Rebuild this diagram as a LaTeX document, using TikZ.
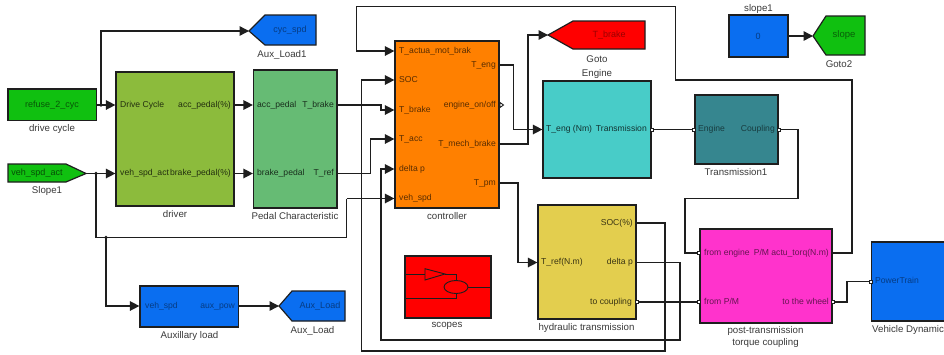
\documentclass[tikz,border=0pt]{standalone}
\usepackage{fontspec}
\setmainfont{Liberation Sans}
\usetikzlibrary{arrows.meta,shapes.geometric,calc}
\definecolor{cLine}{HTML}{1E1E1E}
\definecolor{cGreen}{HTML}{10C010}
\definecolor{cDriver}{HTML}{8CBB3C}
\definecolor{cPedal}{HTML}{66BB74}
\definecolor{cBlue}{HTML}{0A6EF0}
\definecolor{cOrange}{HTML}{FF8000}
\definecolor{cTeal}{HTML}{48CCC8}
\definecolor{cTrans}{HTML}{36868F}
\definecolor{cRed}{HTML}{FF0000}
\definecolor{cYellow}{HTML}{E3CE4E}
\definecolor{cMag}{HTML}{FF33CC}
\definecolor{cLabel}{HTML}{3A3A3A}
\tikzset{
  x=1pt,y=-1pt,
  blk/.style={draw=cLine,line width=1.2pt,inner sep=0pt},
  wire/.style={draw=cLine,line width=1.4pt},
  arr/.style={wire,-{Triangle[length=9.5pt,width=9.5pt]}},
  captext/.style={text=cLabel,inner sep=0pt,font=\fontsize{9.7}{11}\selectfont,align=center},
  portl/.style={inner sep=0pt,anchor=west,text height=6pt,text depth=2pt,font=\fontsize{8.6}{10}\selectfont},
  portr/.style={inner sep=0pt,anchor=east,text height=6pt,text depth=2pt,font=\fontsize{8.6}{10}\selectfont},
  jdot/.style={circle,fill=cLine,inner sep=0pt,minimum size=3.6pt},
  sq/.style={draw=cLine,fill=white,line width=.6pt,inner sep=0pt,minimum size=2.6pt},
}
\newcommand{\simblock}[6]{\node[blk,fill=#6,minimum width={(#4-#2)*1pt},minimum height={(#5-#3)*1pt}] (#1) at ({(#2+#4)/2},{(#3+#5)/2}) {};}
\begin{document}
\begin{tikzpicture}
\useasboundingbox (0,0) rectangle (944,354);
\fill[white] (0,0) rectangle (944,354);

% blocks
\simblock{refuse}{8}{89}{96.5}{120.5}{cGreen}
\simblock{driver}{116}{72}{234}{206}{cDriver}
\simblock{pedal}{253.5}{70}{337}{208}{cPedal}
\simblock{aux}{140}{286}{238.5}{327}{cBlue}
\simblock{ctrl}{395}{41}{499}{208}{cOrange}
\simblock{engine}{543}{81}{651}{178}{cTeal}
\simblock{hyd}{538}{205}{636}{319}{cYellow}
\simblock{scopes}{405}{256}{491}{318}{cRed}
\simblock{trans}{695}{95}{778}{164}{cTrans}
\simblock{slopeA}{729}{15}{788}{57}{cBlue}
\simblock{post}{700}{229}{832}{323}{cMag}
\simblock{veh}{871.5}{242}{950}{321}{cBlue}

% from / goto tags
\draw[blk,fill=cGreen] (8,164) -- (66,164) -- (86,173.5) -- (66,182) -- (8,182) -- cycle;
\coordinate (slopeTip) at (86,173.5);
\draw[blk,fill=cBlue] (249,31) -- (265,15) -- (316,15) -- (316,45) -- (265,45) -- cycle;
\coordinate (cycTip) at (249,31);
\draw[blk,fill=cBlue] (279,306) -- (292,291) -- (345,291) -- (345,321) -- (292,321) -- cycle;
\coordinate (auxTip) at (279,306);
\draw[blk,fill=cRed] (548,35) -- (573,21) -- (645,21) -- (645,49) -- (573,49) -- cycle;
\coordinate (brakeTip) at (548,35);
\draw[blk,fill=cGreen] (813,36) -- (826,16) -- (865,16) -- (865,55) -- (826,55) -- cycle;
\coordinate (slopeGoto) at (813,36);

% text in tags and constants
\node[inner sep=0pt,text=cGreen!45!black,font=\fontsize{9}{10}\selectfont] (tRefuse) at (52,105) {refuse\_2\_cyc};
\node[inner sep=0pt,text=cGreen!40!black,font=\fontsize{9}{10}\selectfont] (tSlope) at (37,173) {veh\_spd\_act};
\node[inner sep=0pt,text=cBlue!55!black,font=\fontsize{9}{10}\selectfont] (tCyc) at (290,30.5) {cyc\_spd};
\node[inner sep=0pt,text=cBlue!55!black,font=\fontsize{9}{10}\selectfont] (tAux) at (320,306) {Aux\_Load};
\node[inner sep=0pt,text=cRed!60!black,font=\fontsize{9}{10}\selectfont] (tBrake) at (609,35) {T\_brake};
\node[inner sep=0pt,text=cGreen!50!black,font=\fontsize{9.5}{10}\selectfont] (tSlp) at (844,35) {slope};
\node[inner sep=0pt,text=cBlue!55!black,font=\fontsize{9}{10}\selectfont] (tZero) at (758,36) {0};

% captions
\node[captext] (c1) at (52,128.5) {drive cycle};
\node[captext] (c2) at (47,190.5) {Slope1};
\node[captext] (c3) at (282,55) {Aux\_Load1};
\node[captext] (c4) at (175,214.5) {driver};
\node[captext] (c5) at (295,216) {Pedal Characteristic};
\node[captext] (c6) at (189.5,335.5) {Auxillary load};
\node[captext] (c7) at (312.5,330.5) {Aux\_Load};
\node[captext] (c8) at (447,216) {controller};
\node[captext] (c9) at (597,59) {Goto};
\node[captext] (c10) at (597,74) {Engine};
\node[captext] (c11) at (447,325.5) {scopes};
\node[captext] (c12) at (586.5,328) {hydraulic transmission};
\node[captext] (c13) at (736,172) {Transmission1};
\node[captext] (c14) at (758.5,8.5) {slope1};
\node[captext] (c15) at (839,64) {Goto2};
\node[captext,anchor=north] (c16) at (765.5,326) {post-transmission\\[1pt]torque coupling};
\node[captext,anchor=west] (c17) at (872,329.5) {Vehicle Dynamic};

% ports
\node[portl,text=cDriver!25!black] (dA) at (120,105) {Drive Cycle};
\node[portl,text=cDriver!25!black] (dB) at (120,173.5) {veh\_spd\_act};
\node[portr,text=cDriver!25!black] (dC) at (231,105) {acc\_pedal(\%)};
\node[portr,text=cDriver!25!black] (dD) at (231,173.5) {brake\_pedal(\%)};
\node[portl,text=cPedal!25!black] (pA) at (257,105) {acc\_pedal};
\node[portl,text=cPedal!25!black] (pB) at (257,173.5) {brake\_pedal};
\node[portr,text=cPedal!25!black] (pC) at (334,105) {T\_brake};
\node[portr,text=cPedal!25!black] (pD) at (334,173.5) {T\_ref};
\node[portl,text=cBlue!55!black] (aA) at (145,306) {veh\_spd};
\node[portr,text=cBlue!55!black] (aB) at (235,306) {aux\_pow};
\node[portl,text=cOrange!35!black] (cA) at (399,51) {T\_actua\_mot\_brak};
\node[portl,text=cOrange!35!black] (cB) at (399,80) {SOC};
\node[portl,text=cOrange!35!black] (cC) at (399,110) {T\_brake};
\node[portl,text=cOrange!35!black] (cD) at (399,139) {T\_acc};
\node[portl,text=cOrange!35!black] (cE) at (399,169) {delta p};
\node[portl,text=cOrange!35!black] (cF) at (399,198.5) {veh\_spd};
\node[portr,text=cOrange!35!black] (cG) at (496,65) {T\_eng};
\node[portr,text=cOrange!35!black] (cH) at (496,105) {engine\_on/off};
\node[portr,text=cOrange!35!black] (cI) at (496,144) {T\_mech\_brake};
\node[portr,text=cOrange!35!black] (cJ) at (496,183) {T\_pm};
\node[portl,text=cTeal!25!black] (eA) at (546,129.5) {T\_eng (Nm)};
\node[portr,text=cTeal!25!black] (eB) at (647,129.5) {Transmission};
\node[portl,text=cYellow!25!black] (hA) at (541,262.5) {T\_ref(N.m)};
\node[portr,text=cYellow!25!black] (hB) at (633,223) {SOC(\%)};
\node[portr,text=cYellow!25!black] (hC) at (633,262.5) {delta p};
\node[portr,text=cYellow!25!black] (hD) at (632,302) {to coupling};
\node[portl,text=cTrans!45!black] (tA) at (698,129.5) {Engine};
\node[portr,text=cTrans!45!black] (tB) at (775,129.5) {Coupling};
\node[portl,text=cMag!40!black] (mA) at (704,253) {from engine};
\node[portl,text=cMag!40!black] (mB) at (704,302) {from P/M};
\node[portr,text=cMag!40!black] (mC) at (829,253) {P/M actu\_torq(N.m)};
\node[portr,text=cMag!40!black] (mD) at (829,302) {to the wheel};
\node[portl,text=cBlue!55!black] (vA) at (875,281.5) {PowerTrain};

% named branch points
\coordinate (jDrive) at (101,105);
\coordinate (jSpd) at (96,173.5);
\coordinate (jAux) at (106,237.5);

% connectors
\draw[arr] (refuse.east |- dA) -- (driver.west |- dA);
\draw[arr] (jDrive) -- (101,31) -- (cycTip);
\draw[arr] (slopeTip) -- (driver.west |- dB);
\draw[wire] (jSpd) -- (96,237.5) -- (346.5,237.5) -- (346.5,198.5);
\draw[arr] (346.5,198.5) -- (ctrl.west |- cF);
\draw[arr] (jAux) -- (106,306) -- (aux.west |- aA);
\draw[arr] (aux.east |- aB) -- (auxTip);
\draw[arr] (driver.east |- dC) -- (pedal.west |- pA);
\draw[arr] (driver.east |- dD) -- (pedal.west |- pB);
\draw[arr] (pedal.east |- pC) -- (381,105) -- (381,110) -- (ctrl.west |- cC);
\draw[arr] (pedal.east |- pD) -- (370.7,173.5) -- (370.7,139) -- (ctrl.west |- cD);
\draw[arr] (hyd.east |- hC) -- (680,262.5) -- (680,340) -- (381,340) -- (381,169) -- (ctrl.west |- cE);
\draw[arr] (hyd.east |- hB) -- (665,223) -- (665,351) -- (361.7,351) -- (361.7,80) -- (ctrl.west |- cB);
\draw[arr] (post.east |- mC) -- (852,253) -- (852,80) -- (675.5,80) -- (675.5,6.5) -- (356.7,6.5) -- (356.7,51) -- (ctrl.west |- cA);
\draw[arr] (ctrl.east |- cG) -- (513.5,65) -- (513.5,129.5) -- (engine.west |- eA);
\draw[arr] (ctrl.east |- cI) -- (528,144) -- (528,35) -- (brakeTip);
\draw[arr] (ctrl.east |- cJ) -- (518,183) -- (518,262.5) -- (hyd.west |- hA);
\draw[wire] (engine.east |- eB) -- (trans.west |- tA);
\draw[wire] (trans.east |- tB) -- (798,129.5) -- (798,198.5) -- (685,198.5) -- (685,253) -- (post.west |- mA);
\draw[wire] (hyd.east |- hD) -- (post.west |- mB);
\draw[wire] (post.east |- mD) -- (847,302) -- (847,281.5) -- (veh.west |- vA);
\draw[arr] (slopeA.east |- tZero) -- (slopeGoto);

% junction dots
\node[jdot] (d1) at (jDrive) {};
\node[jdot] (d2) at (jSpd) {};
\node[jdot] (d3) at (jAux) {};

% conserving port squares
\node[sq] (s1) at (652,129.5) {};
\node[sq] (s2) at (694,129.5) {};
\node[sq] (s3) at (779,129.5) {};
\node[sq] (s4) at (699,253) {};
\node[sq] (s5) at (637,302) {};
\node[sq] (s6) at (699,302) {};
\node[sq] (s7) at (833,302) {};
\node[sq] (s8) at (870.5,281.5) {};

% open output port
\draw[cLine,line width=.9pt,fill=white] (500,102.5) -- (503.5,105) -- (500,107.5) -- cycle;

% scopes icon
\draw[cLine,line width=.9pt] (405,274) -- (425,274);
\draw[cLine,line width=.9pt] (425,268.7) -- (445,274) -- (425,280) -- cycle;
\draw[cLine,line width=.9pt] (445,274) -- (456,274) -- (456,281);
\draw[cLine,line width=.9pt] (456,287) ellipse (12 and 6.5);
\draw[cLine,line width=.9pt] (468,287) -- (491,287);
\draw[cLine,line width=.9pt] (405,298) -- (456,298) -- (456,293.5);
\end{tikzpicture}
\end{document}
